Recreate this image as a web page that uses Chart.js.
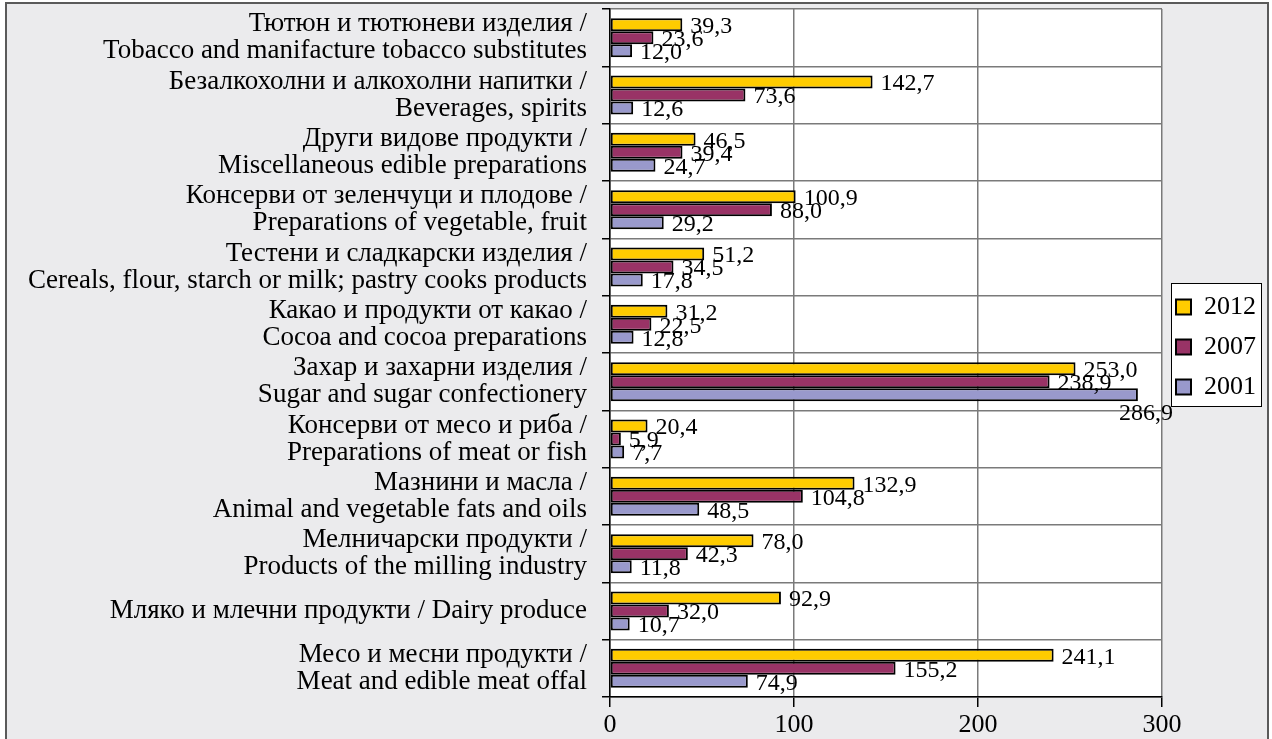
<!DOCTYPE html>
<html>
<head>
<meta charset="utf-8">
<script src="https://cdn.jsdelivr.net/npm/chart.js@4"></script>
<style>
  body { margin: 0; background: #ffffff; }
  #wrap { width: 1272px; height: 739px; position: relative; }
</style>
</head>
<body>
<div id="wrap"><canvas id="chart"></canvas></div>
<script>
// =====================
// Data
// =====================

const categories = [
  ['Тютюн и тютюневи изделия /', 'Tobacco and manifacture tobacco substitutes'],
  ['Безалкохолни и алкохолни напитки /', 'Beverages, spirits'],
  ['Други видове продукти /', 'Miscellaneous edible preparations'],
  ['Консерви от зеленчуци и плодове /', 'Preparations of vegetable, fruit'],
  ['Тестени и сладкарски изделия /', 'Cereals, flour, starch or milk; pastry cooks products'],
  ['Какао и продукти от какао /', 'Cocoa and cocoa preparations'],
  ['Захар и захарни изделия /', 'Sugar and sugar confectionery'],
  ['Консерви от месо и риба /', 'Preparations of meat or fish'],
  ['Мазнини и масла /', 'Animal and vegetable fats and oils'],
  ['Мелничарски продукти /', 'Products of the milling industry'],
  'Мляко и млечни продукти / Dairy produce',
  ['Месо и месни продукти /', 'Meat and edible meat offal']
];

const values2012 = [39.3, 142.7, 46.5, 100.9, 51.2, 31.2, 253.0, 20.4, 132.9, 78.0, 92.9, 241.1];
const values2007 = [23.6, 73.6, 39.4, 88.0, 34.5, 22.5, 238.9, 5.9, 104.8, 42.3, 32.0, 155.2];
const values2001 = [12.0, 12.6, 24.7, 29.2, 17.8, 12.8, 286.9, 7.7, 48.5, 11.8, 10.7, 74.9];

const seriesNames = ['2012', '2007', '2001'];
const seriesColors = ['#ffcc00', '#993366', '#9999cc'];
const xTicks = [0, 100, 200, 300];

const FONT = 'Liberation Serif';

// =====================
// Plugins
// =====================

// gray frame, white plot area, white legend box
const backdrop = {
  id: 'backdrop',
  afterLayout(chart) {
    // legend sits a little above the middle of the plot
    const lg = chart.legend;
    const mid = (chart.chartArea.top + chart.chartArea.bottom) / 2 - 6;
    const h = lg.bottom - lg.top;
    lg.top = mid - h / 2;
    lg.bottom = mid + h / 2;
  },
  beforeDraw(chart) {
    const { ctx, chartArea, width, height } = chart;
    ctx.save();
    ctx.fillStyle = '#ffffff';
    ctx.fillRect(0, 0, width, height);
    ctx.fillStyle = '#ebebed';
    ctx.fillRect(6, 3, width - 10, height + 10);
    ctx.strokeStyle = '#5a5a5a';
    ctx.lineWidth = 2;
    ctx.strokeRect(6, 3, width - 10, height + 10);
    ctx.fillStyle = '#ffffff';
    ctx.fillRect(chartArea.left, chartArea.top, chartArea.right - chartArea.left, chartArea.bottom - chartArea.top);

    const hits = chart.legend.legendHitBoxes;
    if (hits && hits.length) {
      const first = hits[0];
      const last = hits[hits.length - 1];
      const left = Math.min(...hits.map(h => h.left)) - 5;
      const right = Math.max(...hits.map(h => h.left + h.width)) + 5;
      const top = first.top + first.height / 2 - 24;
      const bottom = last.top + last.height / 2 + 19;
      ctx.fillStyle = '#ffffff';
      ctx.fillRect(left, top, right - left, bottom - top);
      ctx.strokeStyle = '#000000';
      ctx.lineWidth = 1;
      ctx.strokeRect(left + 0.5, top + 0.5, right - left, bottom - top);
    }
    ctx.restore();
  }
};

// value labels at the end of every bar
const valueLabels = {
  id: 'valueLabels',
  afterDatasetsDraw(chart) {
    const { ctx, chartArea } = chart;
    ctx.save();
    ctx.font = `24px "${FONT}"`;
    ctx.fillStyle = '#000000';
    chart.data.datasets.forEach((ds, i) => {
      chart.getDatasetMeta(i).data.forEach((bar, j) => {
        const text = ds.data[j].toFixed(1).replace('.', ',');
        const w = ctx.measureText(text).width;
        if (bar.x + 8 + w > chartArea.right) {
          ctx.textAlign = 'center';
          ctx.textBaseline = 'top';
          ctx.fillText(text, bar.x + 8, bar.y + bar.height / 2 + 1);
        } else {
          ctx.textAlign = 'left';
          ctx.textBaseline = 'middle';
          ctx.fillText(text, bar.x + 8, bar.y + 2);
        }
      });
    });
    ctx.restore();
  }
};

// =====================
// Chart
// =====================

const seriesValues = [values2012, values2007, values2001];

new Chart(document.getElementById('chart'), {
  type: 'bar',
  data: {
    labels: categories,
    datasets: seriesNames.map((name, i) => ({
      label: name,
      data: seriesValues[i],
      backgroundColor: seriesColors[i],
      borderColor: '#000000',
      borderWidth: 2,
      borderSkipped: false,
      categoryPercentage: 0.68,
      barPercentage: 1.0
    }))
  },
  options: {
    indexAxis: 'y',
    responsive: true,
    maintainAspectRatio: false,
    animation: false,
    devicePixelRatio: 1,
    layout: { padding: { left: 0, top: 9, right: 6, bottom: -4 } },
    plugins: {
      legend: {
        position: 'right',
        labels: {
          font: { family: FONT, size: 26 },
          color: '#000000',
          boxWidth: 15,
          boxHeight: 15,
          padding: 14,
          useBorderRadius: false
        }
      },
      tooltip: { enabled: false }
    },
    scales: {
      x: {
        min: xTicks[0],
        max: xTicks[xTicks.length - 1],
        afterBuildTicks(scale) {
          scale.ticks = xTicks.map(v => ({ value: v }));
        },
        grid: { color: '#7a7a7a', lineWidth: 1.5, tickColor: '#000000', tickLength: 10 },
        border: { color: '#000000', width: 1.5 },
        ticks: {
          font: { family: FONT, size: 26, lineHeight: 1.0 },
          color: '#000000',
          padding: 5
        }
      },
      y: {
        afterFit(scale) {
          // long two-line labels need the whole left half
          scale.width = 610;
          scale.paddingTop = 0;
          scale.paddingBottom = 0;
        },
        grid: { color: '#7a7a7a', lineWidth: 1.5, tickColor: '#000000', tickLength: 8, offset: true },
        border: { color: '#000000', width: 1.5 },
        ticks: {
          font: { family: FONT, size: 27, lineHeight: 1.0 },
          color: '#000000',
          padding: 15,
          autoSkip: false
        }
      }
    }
  },
  plugins: [backdrop, valueLabels]
});
</script>
</body>
</html>
